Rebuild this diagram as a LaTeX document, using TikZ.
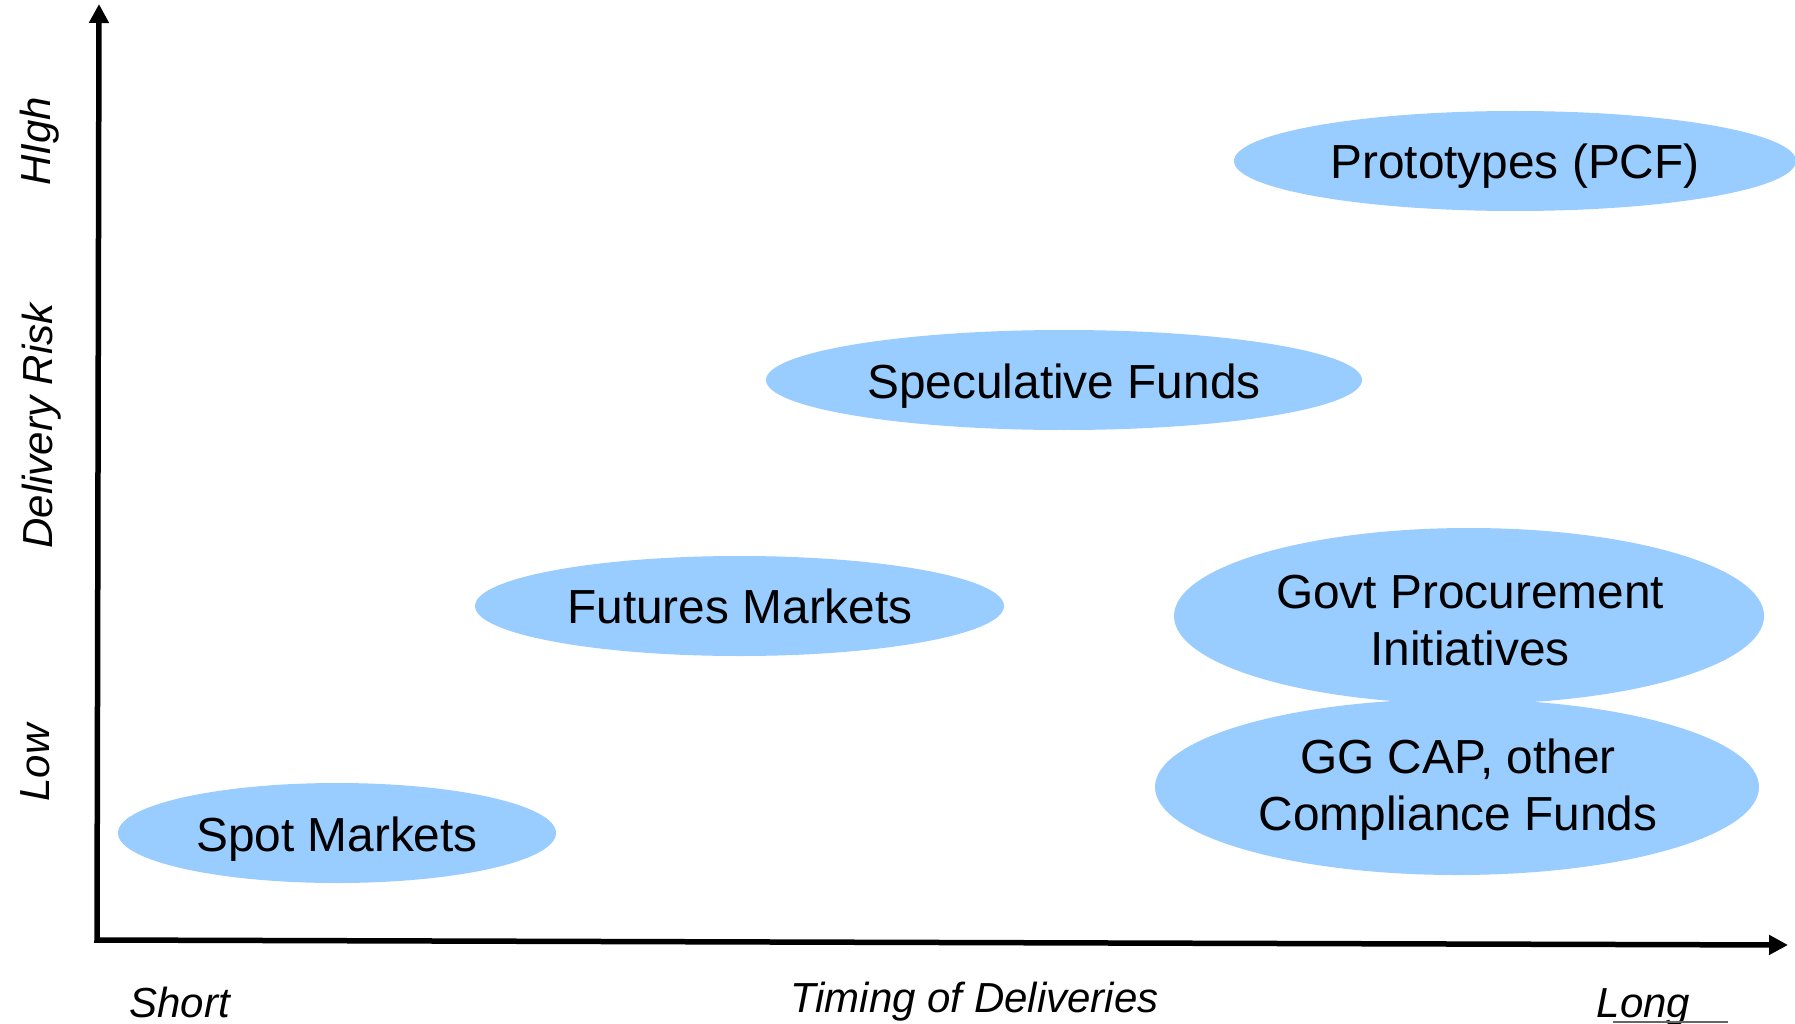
\documentclass[tikz,border=0pt]{standalone}
\usepackage{fontspec}
\setmainfont{Liberation Sans}
\usetikzlibrary{arrows.meta,shapes.geometric,calc}
\definecolor{blobblue}{HTML}{99CCFF}
\begin{document}
\begin{tikzpicture}[x=1pt,y=-1pt,
  blob/.style={ellipse, fill=blobblue, draw=none, inner sep=0pt},
  lbl/.style={font=\fontsize{47.8}{57}\selectfont, inner sep=0pt, align=center},
  axlbl/.style={font=\fontsize{42}{50}\selectfont\itshape, inner sep=0pt},
  axisline/.style={line width=5.5pt, line join=miter, {Triangle[length=19pt,width=19pt]}-{Triangle[length=19pt,width=19pt]}}]
\clip (0,0) rectangle (1795,1024);
\fill[white] (0,0) rectangle (1795,1024);
% ellipses
\node[blob, minimum width=562pt, minimum height=100pt] (proto) at (1515,161) {};
\node[blob, minimum width=596pt, minimum height=100pt] (spec) at (1064,380) {};
\node[blob, minimum width=529pt, minimum height=100pt] (fut) at (739.5,606) {};
\node[blob, minimum width=438pt, minimum height=100pt] (spot) at (337,833) {};
\node[blob, minimum width=604pt, minimum height=176pt] (gg) at (1457,787) {};
\node[blob, minimum width=590pt, minimum height=176pt] (govt) at (1469,616) {};
% texts
\node[lbl, anchor=base] (protot) at (1515,179) {Prototypes (PCF)};
\node[lbl, anchor=base] (spect) at (1064,398) {Speculative Funds};
\node[lbl, anchor=base] (futt) at (740,623.5) {Futures Markets};
\node[lbl, anchor=base] (spott) at (337,851) {Spot Markets};
\node[lbl] (govtt) at (1470,621) {Govt Procurement\\Initiatives};
\node[lbl] (ggt) at (1458,789.5) {GG CAP, other\\Compliance Funds};
% axes
\coordinate (ytip) at (99,4);
\coordinate (orig) at (97,940);
\coordinate (xtip) at (1788,945);
\draw[axisline] (ytip) -- (orig) -- (xtip);
% axis labels
\node[axlbl, anchor=base] (short) at (179.5,1017) {Short};
\node[axlbl, anchor=base] (timing) at (974.5,1012) {Timing of Deliveries};
\node[axlbl, anchor=base] (long) at (1643.5,1017) {Long};
\coordinate (ul1) at (1613,1022);
\coordinate (ul2) at (1728,1022);
\draw[line width=1.5pt, black!60] (ul1) -- (ul2);
\node[axlbl, anchor=base, rotate=90] (high) at (50,141) {HIgh};
\node[axlbl, anchor=base, rotate=90] (risk) at (52,426) {Delivery Risk};
\node[axlbl, anchor=base, rotate=90] (low) at (49,763) {Low};
\end{tikzpicture}
\end{document}
